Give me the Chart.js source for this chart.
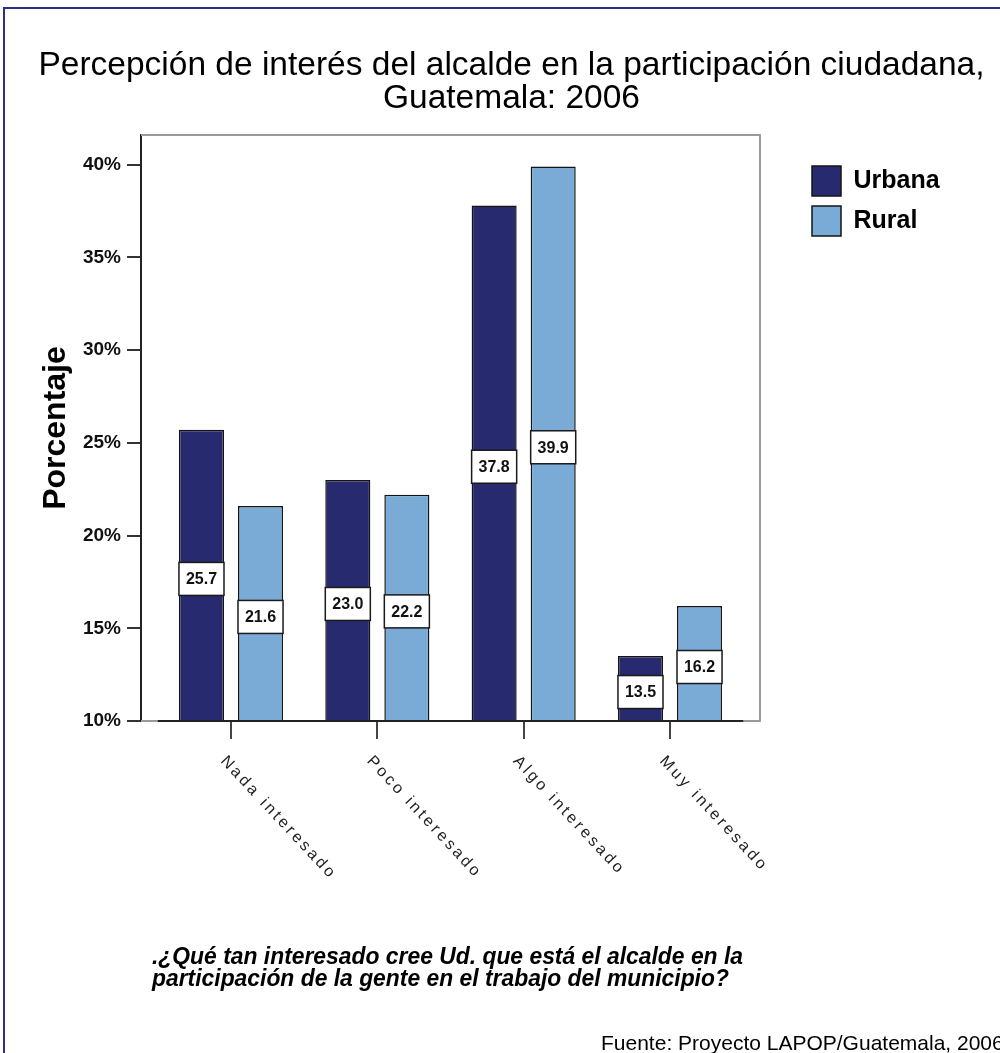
<!DOCTYPE html>
<html><head><meta charset="utf-8">
<script src="https://cdn.jsdelivr.net/npm/chart.js@4.4.1/dist/chart.umd.min.js"></script>
<style>
html,body{margin:0;padding:0;width:1000px;height:1053px;overflow:hidden;background:#fff;}
#frame{position:absolute;left:3px;top:7px;width:1200px;height:1200px;border:2px solid #2e2e8a;}
#c{position:absolute;left:0;top:0;}
.t{position:absolute;white-space:nowrap;font-family:'Liberation Sans',Arial,sans-serif;color:#000;}
#title{left:0;width:1023px;top:47px;text-align:center;font-size:33.5px;line-height:33px;}
#q{left:152px;top:945px;font-weight:bold;font-style:italic;font-size:23px;line-height:22px;transform-origin:0 0;}
#src{left:601px;top:1031px;font-size:21px;line-height:24px;}
</style></head><body>
<div id="frame"></div>
<canvas id="c" width="1000" height="1053"></canvas>
<div class="t" id="title">Percepción de interés del alcalde en la participación ciudadana,<br>Guatemala: 2006</div>
<div class="t" id="q">.¿Qué tan interesado cree Ud. que está el alcalde en la<br>participación de la gente en el trabajo del municipio?</div>
<div class="t" id="src">Fuente: Proyecto LAPOP/Guatemala, 2006</div>
<script>
// ---- data ----
const categories = ['Nada interesado', 'Poco interesado', 'Algo interesado', 'Muy interesado'];
const seriesNames = ['Urbana', 'Rural'];
const urbana = [25.7, 23.0, 37.8, 13.5];
const rural = [21.6, 22.2, 39.9, 16.2];
const yTicks = [10, 15, 20, 25, 30, 35, 40];
const yMin = 10, yMax = 41.6;

// scale the condensed question text to its width in the reference
const q = document.getElementById('q');
q.style.transform = 'scaleX(' + (591 / q.getBoundingClientRect().width) + ')';

const xIdx = categories.map((_, i) => i);
const toPoints = arr => arr.map((v, i) => ({x: xIdx[i], y: v}));
const FONT = '"Liberation Sans", Arial, sans-serif';

const decor = {
  id: 'decor',
  beforeDatasetsDraw(chart) {
    const {ctx, chartArea: a} = chart;
    ctx.save();
    ctx.strokeStyle = '#9a9a9a'; ctx.lineWidth = 2;
    ctx.beginPath();
    ctx.moveTo(a.left, a.top); ctx.lineTo(a.right, a.top);
    ctx.lineTo(a.right, a.bottom); ctx.lineTo(a.left, a.bottom);
    ctx.stroke();
    ctx.restore();
  },
  afterDatasetsDraw(chart) {
    const {ctx, scales: {x, y}} = chart;
    ctx.save();
    const yb = y.getPixelForValue(yMin);
    ctx.strokeStyle = '#222'; ctx.lineWidth = 2;
    ctx.beginPath();
    ctx.moveTo(x.getPixelForValue(xIdx[0] - 0.5), yb);
    ctx.lineTo(x.getPixelForValue(xIdx[xIdx.length - 1] + 0.5), yb);
    ctx.stroke();
    chart.data.datasets.forEach((ds, di) => {
      const meta = chart.getDatasetMeta(di);
      meta.data.forEach((bar, j) => {
        const p = bar.getProps(['x', 'y', 'base', 'width'], true);
        const cy = (p.y + p.base) / 2 + 4, h = 33;
        ctx.fillStyle = '#fff';
        ctx.fillRect(p.x - p.width / 2, cy - h / 2, p.width, h);
        ctx.strokeStyle = '#1a1a1a'; ctx.lineWidth = 1.5;
        ctx.strokeRect(p.x - p.width / 2, cy - h / 2, p.width, h);
        ctx.fillStyle = '#111';
        ctx.font = 'bold 16px ' + FONT;
        ctx.textAlign = 'center'; ctx.textBaseline = 'middle';
        ctx.fillText(ds.data[j].y.toFixed(1), p.x, cy + 1);
      });
    });
    ctx.restore();
  },
  afterDraw(chart) {
    const {ctx, chartArea: a, scales: {x}} = chart;
    ctx.save();
    ctx.fillStyle = '#222';
    ctx.font = '16px ' + FONT;
    if ('letterSpacing' in ctx) ctx.letterSpacing = '3px';
    ctx.textAlign = 'left'; ctx.textBaseline = 'top';
    categories.forEach((c, i) => {
      const px = x.getPixelForValue(xIdx[i]);
      ctx.save();
      ctx.translate(px - 2, a.bottom + 32);
      ctx.rotate(47 * Math.PI / 180);
      ctx.fillText(c, 0, 0);
      ctx.restore();
    });
    ctx.restore();
  }
};

new Chart(document.getElementById('c'), {
  type: 'bar',
  data: {
    datasets: [
      {label: seriesNames[0], data: toPoints(urbana), base: yMin, backgroundColor: '#282a6f', borderColor: '#141414', borderWidth: 1.5},
      {label: seriesNames[1], data: toPoints(rural), base: yMin, backgroundColor: '#7aaad6', borderColor: '#141414', borderWidth: 1.5}
    ]
  },
  options: {
    responsive: false,
    animation: false,
    devicePixelRatio: 1,
    barPercentage: 0.763,
    categoryPercentage: 0.807,
    layout: {padding: {left: 0, top: 135, right: 58, bottom: 302}},
    plugins: {
      tooltip: {enabled: false},
      title: {display: false},
      legend: {
        position: 'right', align: 'start', fullSize: false, maxWidth: 140,
        title: {display: true, text: '', font: {size: 15, lineHeight: 1.4}, padding: 0},
        labels: {boxWidth: 29, boxHeight: 30, padding: 10, color: '#000',
                 font: {family: FONT, size: 25, weight: 'bold'}}
      }
    },
    scales: {
      x: {
        type: 'linear', offset: false,
        min: xIdx[0] - 0.615, max: xIdx[xIdx.length - 1] + 0.615,
        afterBuildTicks: s => { s.ticks = xIdx.map(v => ({value: v})); },
        afterFit: s => { s.height = 30; },
        ticks: {display: false},
        grid: {display: true, drawOnChartArea: false, drawTicks: true, tickLength: 18, color: '#444', lineWidth: 2, offset: false},
        border: {display: false}
      },
      y: {
        type: 'linear', min: yMin, max: yMax,
        afterBuildTicks: s => { s.ticks = yTicks.map(v => ({value: v})); },
        afterFit: s => { s.width = 141; },
        ticks: {callback: v => v + '%', color: '#111', padding: 6, font: {family: FONT, size: 19, weight: 'bold'}},
        grid: {drawOnChartArea: false, tickLength: 14, color: '#333', lineWidth: 2},
        border: {display: true, color: '#222', width: 2},
        title: {display: true, text: 'Porcentaje', color: '#000', padding: {top: 37, bottom: 0},
                font: {family: FONT, size: 32, weight: 'bold'}}
      },
      y2: {
        type: 'linear', position: 'right', display: true,
        afterFit: s => { s.width = 42; },
        ticks: {display: false},
        grid: {display: false},
        border: {display: false}
      }
    }
  },
  plugins: [decor]
});
</script>
</body></html>
